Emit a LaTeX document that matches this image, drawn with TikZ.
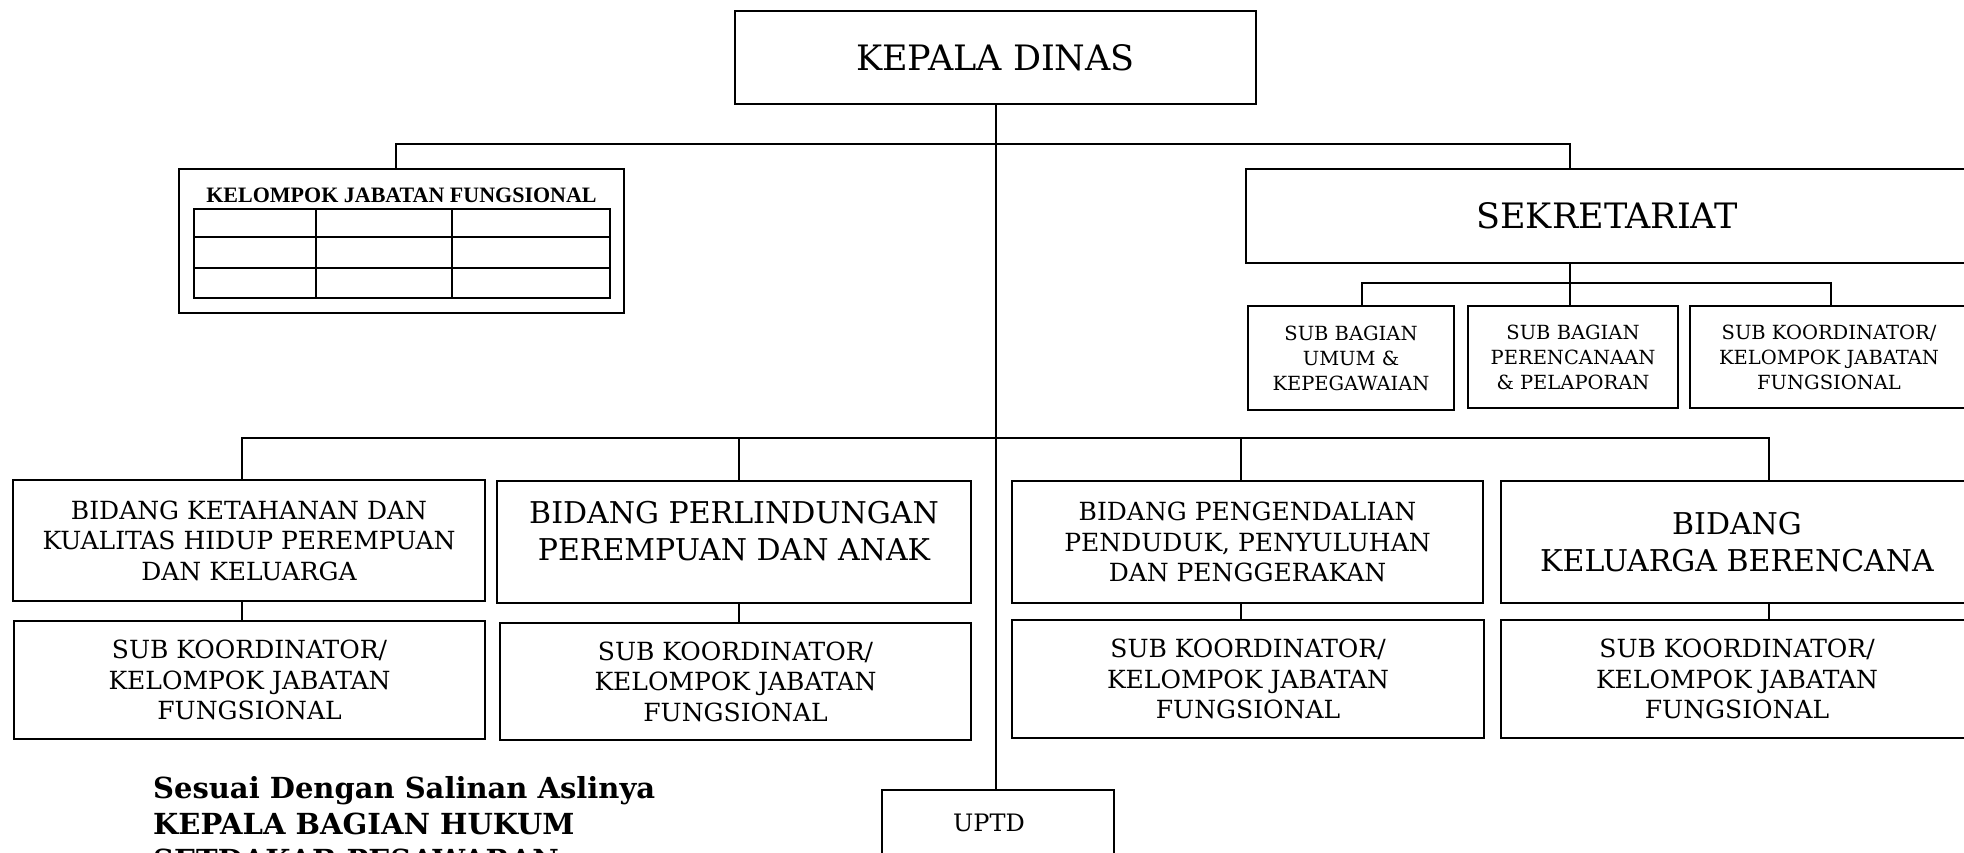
\documentclass[tikz,border=0pt]{standalone}
\usepackage{fontspec}
\setmainfont{DejaVu Serif}
\newfontfamily\titlefont{Liberation Serif}
\usetikzlibrary{calc}
\tikzset{
  box/.style={draw, line width=1.6pt, inner sep=0pt, align=center},
  conn/.style={line width=1.6pt},
  fbig/.style={font=\fontsize{35}{44}\selectfont},
  fbid/.style={font=\fontsize{30}{37.5}\selectfont},
  fmid/.style={font=\fontsize{25}{30.5}\selectfont},
  fsmall/.style={font=\fontsize{19.5}{25}\selectfont},
}
\begin{document}
\begin{tikzpicture}[x=1pt,y=-1pt]
\useasboundingbox (0,0) rectangle (1964,853);
% top
\node[box,fbig,minimum width=521,minimum height=93] (kd) at (995.5,57.5) {KEPALA DINAS};
% kelompok jabatan fungsional
\node[box,minimum width=445,minimum height=144] (kjf) at (401.5,241) {};
\node[font=\titlefont\bfseries\fontsize{22}{25}\selectfont] (kjft) at (401.5,195) {KELOMPOK JABATAN FUNGSIONAL};
\draw[line width=1.6pt] (194,209) rectangle (610,298);
\draw[line width=1.6pt] (316,209) -- (316,298) (452,209) -- (452,298)
  (194,237) -- (610,237) (194,268) -- (610,268);
% sekretariat
\node[box,fbig,minimum width=722,minimum height=94] (sek) at (1607,216) {SEKRETARIAT};
\node[box,fsmall,minimum width=206,minimum height=104] (sb1) at (1351,358) {SUB BAGIAN\\UMUM \&\\KEPEGAWAIAN};
\node[box,fsmall,minimum width=210,minimum height=102] (sb2) at (1573,357) {SUB BAGIAN\\PERENCANAAN\\\& PELAPORAN};
\node[box,fsmall,minimum width=278,minimum height=102] (sb3) at (1829,357) {SUB KOORDINATOR/\\KELOMPOK JABATAN\\FUNGSIONAL};
% bidang
\node[box,fmid,minimum width=472,minimum height=121] (b1) at (249,540.5) {BIDANG KETAHANAN DAN\\KUALITAS HIDUP PEREMPUAN\\DAN KELUARGA};
\node[box,fbid,minimum width=474,minimum height=122] (b2) at (734,542) {\raisebox{3.75pt}[\dimexpr\height-3.75pt][\dimexpr\depth+3.75pt]{\begin{tabular}{@{}c@{}}BIDANG PERLINDUNGAN\\PEREMPUAN DAN ANAK\end{tabular}}};
\node[box,fmid,minimum width=471,minimum height=122] (b3) at (1247.5,542) {BIDANG PENGENDALIAN\\PENDUDUK, PENYULUHAN\\DAN PENGGERAKAN};
\node[box,fbid,minimum width=472,minimum height=122] (b4) at (1737,542) {BIDANG\\KELUARGA BERENCANA};
% sub koordinator
\node[box,fmid,minimum width=471,minimum height=118] (s1) at (249.5,680) {SUB KOORDINATOR/\\KELOMPOK JABATAN\\FUNGSIONAL};
\node[box,fmid,minimum width=471,minimum height=117] (s2) at (735.5,681.5) {SUB KOORDINATOR/\\KELOMPOK JABATAN\\FUNGSIONAL};
\node[box,fmid,minimum width=472,minimum height=118] (s3) at (1248,679) {SUB KOORDINATOR/\\KELOMPOK JABATAN\\FUNGSIONAL};
\node[box,fmid,minimum width=472,minimum height=118] (s4) at (1737,679) {SUB KOORDINATOR/\\KELOMPOK JABATAN\\FUNGSIONAL};
% uptd
\node[box,font=\fontsize{24}{28}\selectfont,minimum width=232,minimum height=66] (uptd) at (998,823) {UPTD\hspace*{18pt}};
% footer text
\node[anchor=base west,align=left,inner sep=0pt,font=\bfseries\fontsize{29}{36}\selectfont] (ft) at (153,870)
  {Sesuai Dengan Salinan Aslinya\\KEPALA BAGIAN HUKUM\\SETDAKAB PESAWARAN};
% coordinates
\coordinate (tk) at (996,144);
\coordinate (cl) at (396,144);
\coordinate (cr) at (1570,144);
\coordinate (sl) at (1362,283);
\coordinate (sr) at (1831,283);
\coordinate (m1) at (242,438);
\coordinate (m2) at (739,438);
\coordinate (m3) at (1241,438);
\coordinate (m4) at (1769,438);
% connectors
\draw[conn] (kd.south -| tk) -- (uptd.north -| tk);
\draw[conn] (kjf.north -| cl) -- (cl) -- (cr) -- (sek.north -| cr);
\draw[conn] (sek.south -| cr) -- (sb2.north -| cr);
\draw[conn] (sb1.north -| sl) -- (sl) -- (sr) -- (sb3.north -| sr);
\draw[conn] (b1.north -| m1) -- (m1) -- (m4) -- (b4.north -| m4);
\draw[conn] (m2) -- (b2.north -| m2);
\draw[conn] (m3) -- (b3.north -| m3);
\draw[conn] (b1.south -| m1) -- (s1.north -| m1);
\draw[conn] (b2.south -| m2) -- (s2.north -| m2);
\draw[conn] (b3.south -| m3) -- (s3.north -| m3);
\draw[conn] (b4.south -| m4) -- (s4.north -| m4);
\end{tikzpicture}
\end{document}
